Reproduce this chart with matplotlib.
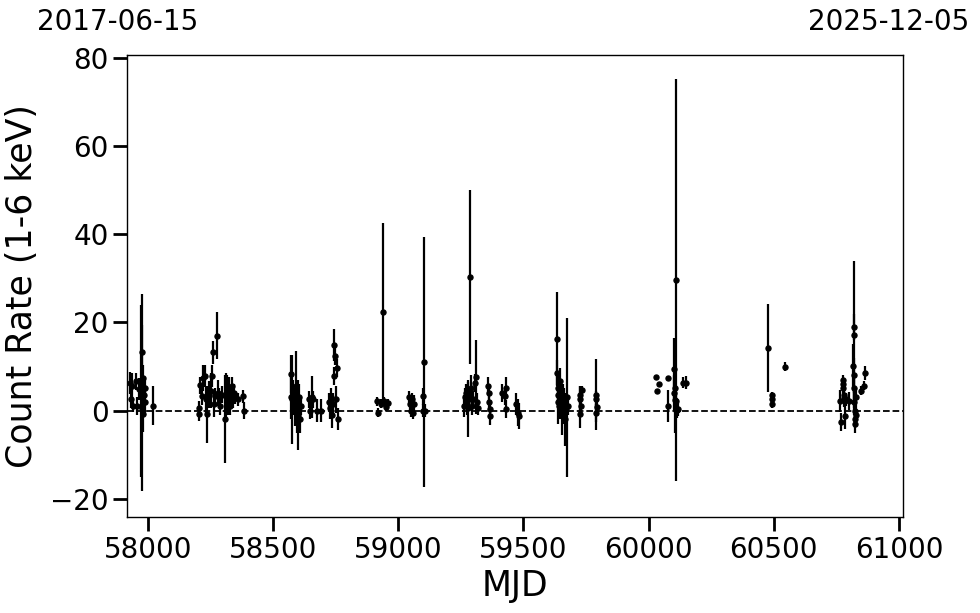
import matplotlib
matplotlib.use("Agg")
import matplotlib.pyplot as plt
import numpy as np

# MJD, count rate (1-6 keV), 1-sigma error
mjd = [
    # 2017
    57929, 57936, 57934, 57942, 57953, 57958, 57966, 57972, 57976, 57978,
    57980, 57984, 57988, 57983, 57990, 58022,
    # 2018
    58203, 58204, 58210, 58216, 58222, 58228, 58232, 58238, 58245, 58252,
    58256, 58260, 58264, 58270, 58276, 58280, 58285, 58288, 58295, 58309,
    58312, 58316, 58320, 58324, 58328, 58332, 58336, 58340, 58345, 58350,
    58360, 58382, 58386,
    # 2019
    58573, 58572, 58576, 58580, 58584, 58588, 58592, 58596, 58600, 58604,
    58608, 58612, 58645, 58650, 58655, 58660, 58676, 58690, 58722, 58726,
    58730, 58735, 58740, 58742, 58745, 58746, 58756, 58752, 58758,
    # 2020
    58916, 58920, 58930, 58938, 58945, 58952, 58958,
    59042, 59046, 59050, 59055, 59060, 59065, 59098, 59100, 59102, 59106,
    # 2021
    59262, 59266, 59270, 59274, 59278, 59280, 59284, 59288, 59292, 59296,
    59300, 59306, 59310, 59314, 59318,
    59360, 59362, 59364, 59366, 59368, 59413, 59429, 59428, 59430,
    59470, 59478, 59482,
    # 2022
    59636, 59637, 59635, 59638, 59640, 59642, 59645, 59648, 59652, 59656,
    59660, 59664, 59668, 59676, 59672, 59680,
    59726, 59728, 59730, 59727, 59734, 59788, 59790, 59792, 59791,
    # 2023
    60029, 60042, 60033, 60078, 60078, 60102, 60100, 60104, 60106, 60108,
    60110, 60112, 60116, 60136, 60149,
    # 2024
    60478, 60491, 60492, 60493, 60546,
    # 2025
    60766, 60767, 60776, 60777, 60778, 60780, 60782, 60784, 60790, 60800,
    60820, 60821, 60818, 60819, 60822, 60821, 60823, 60824, 60826, 60828,
    60830, 60849, 60858, 60862,
]
rate = [
    6.3, 5.5, 2.5, 1.1, 6.6, 1.0, 4.8, 4.5, 13.2, 0.5,
    7.4, 3.6, 5.2, -0.9, 2.0, 1.1,
    0.6, -0.8, 5.7, 3.2, 7.4, 7.8, 2.5, -0.9, 3.6, 4.5,
    7.8, 13.2, 1.5, 3.2, 17.0, 4.0, 3.2, 1.0, 3.6, -2.0,
    3.5, 5.0, 2.0, 4.5, 1.0, 3.0, 5.5, 2.5, 4.0, 3.0,
    2.5, 3.2, 0.0,
    8.2, 3.0, 2.5, 4.0, 2.0, 0.5, 5.5, 1.0, -1.0, 3.0,
    -2.0, 1.0, 2.5, 0.0, 3.0, 2.5, 0.0, 0.0, 2.0, 0.5,
    3.0, -1.0, 1.5, 7.8, 14.8, 12.3, 9.7, 2.5, -1.9,
    2.1, -0.5, 1.5, 22.4, 2.1, 0.8, 1.6,
    3.0, 1.5, 0.0, 2.5, -0.5, 1.5, 3.2, 0.0, 11.0, 0.0,
    1.0, 3.0, 4.0, 2.0, 0.5, 4.5, 3.0, 30.3, 5.0, 1.0,
    2.5, 6.3, 7.6, 2.0, 0.5,
    5.5, 3.9, 2.0, 0.4, -1.3, 3.9, 5.1, 3.2, 0.3,
    1.5, -0.5, -1.3,
    16.3, 2.0, 8.5, 5.0, 3.5, 1.0, 6.6, 4.0, 2.0, -0.5,
    3.0, 1.0, -2.0, 3.0, 0.5, 1.0,
    2.5, 3.6, 1.0, -0.9, 4.6, 3.6, 2.5, 0.8, -0.5,
    7.6, 5.9, 4.4, 7.4, 1.0, 9.4, 4.0, 2.4, 5.0, 2.1,
    29.7, 0.2, 0.3, 6.3, 6.3,
    14.2, 3.5, 2.5, 1.4, 9.9,
    2.1, -2.6, 7.0, 5.9, 5.2, 3.5, 2.9, -1.3, 2.5, 2.1,
    17.2, 19.0, 10.0, 8.0, 5.0, 2.0, 0.0, -2.0, -3.0, 3.0,
    -1.0, 4.5, 5.6, 8.5,
]
err = [
    2.5, 3.0, 2.0, 1.5, 2.0, 2.0, 2.5, 19.5, 13.3, 18.8,
    3.0, 2.5, 2.0, 4.0, 3.0, 4.5,
    1.5, 1.5, 2.0, 2.0, 3.0, 2.5, 3.0, 6.5, 3.0, 4.0,
    2.5, 2.6, 3.0, 2.0, 5.3, 3.0, 2.0, 2.0, 2.0, 10.0,
    5.0, 3.0, 3.0, 3.0, 2.0, 2.0, 2.0, 2.0, 2.0, 1.5,
    1.5, 1.5, 2.0,
    4.3, 5.0, 10.2, 3.0, 3.0, 4.0, 8.0, 6.0, 8.0, 3.0,
    3.0, 2.0, 2.0, 2.0, 4.8, 2.0, 2.5, 2.5, 2.0, 2.5,
    2.0, 3.0, 2.5, 2.0, 3.6, 2.0, 2.0, 3.0, 2.5,
    1.0, 1.0, 1.0, 20.2, 1.0, 1.0, 1.0,
    1.5, 2.0, 1.5, 1.5, 1.5, 2.0, 2.0, 1.5, 28.3, 1.5,
    2.5, 2.0, 2.0, 3.0, 6.5, 2.0, 2.0, 19.8, 3.0, 2.0,
    2.0, 2.0, 8.4, 2.0, 1.5,
    2.0, 2.0, 2.0, 2.0, 2.0, 2.0, 2.5, 2.0, 2.0,
    2.5, 3.0, 3.0,
    10.5, 5.0, 3.0, 3.0, 2.0, 3.0, 3.0, 3.0, 4.0, 5.0,
    3.0, 4.0, 6.0, 18.0, 3.0, 2.0,
    3.0, 2.0, 2.0, 3.0, 1.0, 8.0, 2.0, 2.0, 2.0,
    0.3, 0.3, 0.3, 0.5, 3.6, 7.0, 4.0, 3.0, 10.0, 2.0,
    45.6, 2.0, 1.5, 1.2, 1.5,
    10.0, 0.8, 0.8, 0.8, 1.0,
    2.5, 2.0, 1.0, 1.0, 1.5, 2.0, 2.0, 3.0, 1.5, 2.0,
    16.7, 3.0, 5.0, 4.0, 3.0, 3.0, 3.0, 2.0, 2.0, 2.0,
    2.0, 1.0, 1.0, 1.5,
]

date_start = "2017-06-15"
date_end = "2025-12-05"
mjd_start = 57919
mjd_end = 61014

fig = plt.figure(figsize=(9.8, 6.13), dpi=100)
ax = fig.add_axes([0.130, 0.157, 0.791, 0.753])

ax.errorbar(mjd, rate, yerr=err, fmt='o', color='black', ms=3.6,
            elinewidth=1.6, capsize=0, zorder=3)
ax.axhline(0, color='black', ls='--', lw=1.3, zorder=2)

ax.set_xlim(mjd_start, mjd_end)
ax.set_ylim(-24.1, 80.6)
ax.set_xticks([58000, 58500, 59000, 59500, 60000, 60500, 61000])
ax.set_yticks([-20, 0, 20, 40, 60, 80])
ax.tick_params(axis='both', which='major', labelsize=20, length=10, width=2)
for s in ax.spines.values():
    s.set_linewidth(1.0)

ax.set_xlabel("MJD", fontsize=25, labelpad=4)
ax.set_ylabel("Count Rate (1-6 keV)", fontsize=25, labelpad=8)

fig.text(118 / 980, 1 - 22 / 613, date_start, fontsize=20, ha='center', va='center')
fig.text(889 / 980, 1 - 22 / 613, date_end, fontsize=20, ha='center', va='center')

fig.savefig("out.png", dpi=100)
